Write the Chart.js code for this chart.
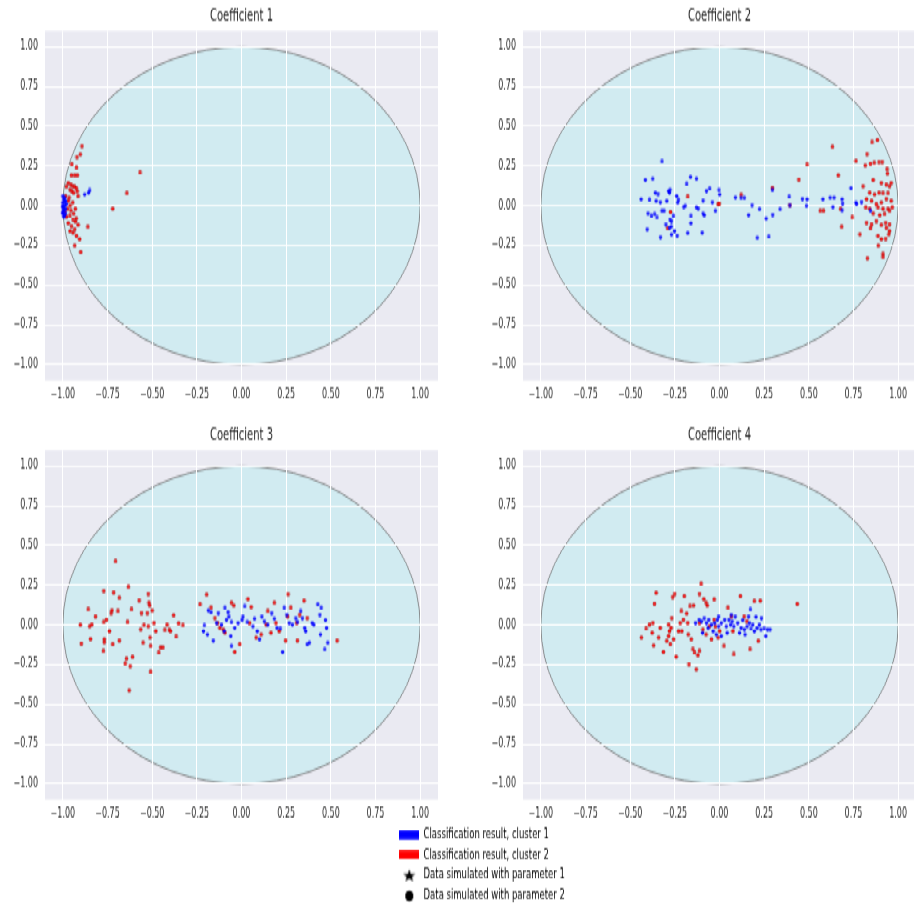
<!DOCTYPE html>
<html>
<head>
<meta charset="utf-8">
<script src="https://cdn.jsdelivr.net/npm/chart.js@4.4.1/dist/chart.umd.min.js"></script>
<style>
  html, body { margin: 0; padding: 0; background: #fff; overflow: hidden; }
  /* the reference figure is stretched vertically, so draw flat and stretch */
  #fig { position: absolute; left: 0; top: 0; width: 914px; height: 567px; transform: scaleY(1.6); transform-origin: 0 0; }
  #fig canvas { position: absolute; }
</style>
</head>
<body>
<div id="fig">
  <canvas id="c1" width="443" height="254" style="left:0px;top:0px"></canvas>
  <canvas id="c2" width="443" height="254" style="left:478px;top:0px"></canvas>
  <canvas id="c3" width="443" height="254" style="left:0px;top:262px"></canvas>
  <canvas id="c4" width="443" height="254" style="left:478px;top:262px"></canvas>
  <canvas id="legend" width="400" height="64" style="left:395px;top:513px"></canvas>
</div>
<script>
const titles = ['Coefficient 1', 'Coefficient 2', 'Coefficient 3', 'Coefficient 4'];
const tickValues = [-1, -0.75, -0.5, -0.25, 0, 0.25, 0.5, 0.75, 1];
const legendLabels = [
  'Classification result, cluster 1',
  'Classification result, cluster 2',
  'Data simulated with parameter 1',
  'Data simulated with parameter 2'
];

// [x, y] pairs
const coef1Blue = [[-0.878,0.072],[-0.856,0.083],[-0.85,0.097],[-1.0,0.06],[-0.995,0.04],[-1.0,0.02],[-0.99,0.0],
  [-1.0,-0.01],[-0.995,-0.03],[-1.0,-0.05],[-0.99,-0.06],[-0.985,0.03],[-0.985,-0.02],[-0.98,0.01],[-0.99,0.05],
  [-1.0,-0.04],[-0.995,-0.015],[-0.985,-0.045],[-0.99,0.025],[-1.0,0.0],[-0.995,-0.07]];
const coef1Red = [[-0.893,0.377],[-0.921,0.308],[-0.902,0.325],[-0.95,0.26],[-0.924,0.239],[-0.952,0.191],[-0.934,0.191],
  [-0.919,0.191],[-0.568,0.208],[-0.642,0.078],[-0.721,-0.018],[-0.86,-0.133],[-0.97,0.145],[-0.955,0.135],[-0.945,0.125],
  [-0.935,0.12],[-0.925,0.11],[-0.96,0.1],[-0.95,0.09],[-0.94,0.08],[-0.92,0.09],[-0.915,0.06],[-0.98,0.12],[-0.985,0.06],
  [-0.97,0.03],[-0.96,0.0],[-0.975,-0.02],[-0.955,-0.03],[-0.94,-0.05],[-0.93,-0.02],[-0.965,0.05],[-0.99,-0.04],
  [-0.98,-0.07],[-0.945,0.02],[-0.925,-0.08],[-0.961,-0.064],[-0.943,-0.085],[-0.952,-0.127],[-0.934,-0.147],
  [-0.943,-0.168],[-0.924,-0.189],[-0.906,-0.21],[-0.934,-0.252],[-0.9,-0.293],[-0.97,-0.11],[-0.96,-0.16],
  [-0.915,-0.12],[-0.93,-0.1]];

const coef2Blue = [[-0.439,0.041],[-0.415,0.164],[-0.374,0.17],[-0.322,0.279],[-0.392,0.037],[-0.359,0.083],[-0.344,0.076],
  [-0.355,0.03],[-0.331,0.024],[-0.4,-0.047],[-0.381,-0.064],[-0.363,-0.053],[-0.35,-0.074],[-0.405,-0.147],[-0.33,-0.197],
  [-0.322,-0.032],[-0.31,-0.032],[-0.295,0.03],[-0.285,0.093],[-0.28,0.083],[-0.277,0.1],[-0.3,-0.116],[-0.269,-0.095],
  [-0.277,-0.085],[-0.258,-0.064],[-0.28,-0.137],[-0.27,-0.131],[-0.252,-0.158],[-0.269,-0.181],[-0.237,-0.187],
  [-0.24,0.062],[-0.23,0.037],[-0.234,0.02],[-0.2,-0.005],[-0.192,-0.001],[-0.184,0.137],[-0.162,0.181],[-0.129,0.17],
  [-0.16,-0.064],[-0.16,-0.11],[-0.178,-0.172],[-0.097,-0.168],[-0.129,-0.011],[-0.119,-0.015],[-0.092,-0.047],
  [-0.086,-0.06],[-0.092,0.035],[-0.073,0.095],[-0.055,0.108],[-0.04,0.024],[-0.023,-0.032],[-0.003,0.099],[0.001,0.072],
  [0.089,0.053],[0.121,0.049],[0.139,0.049],[0.182,0.005],[0.163,-0.057],[0.224,-0.022],[0.211,-0.202],[0.276,-0.195],
  [0.261,-0.08],[0.298,-0.055],[0.339,-0.022],[0.296,0.099],[0.39,0.057],[0.394,0.005],[0.464,0.045],[0.49,0.041],
  [0.487,-0.001],[0.579,0.041],[0.619,0.051],[0.641,0.051],[0.635,-0.007],[0.686,0.041],[0.689,0.016],[0.686,-0.026],
  [0.736,0.11],[0.764,0.02],[0.767,0.01],[0.795,0.026],[0.845,-0.032]];
const coef2Red = [[-0.178,0.057],[-0.274,-0.039],[-0.29,-0.143],[-0.008,0.009],[-0.002,0.015],[0.121,0.068],[0.296,0.114],
  [0.394,0.005],[0.444,0.166],[0.49,0.258],[0.632,0.371],[0.665,0.191],[0.684,-0.133],[0.678,-0.022],[0.564,-0.032],
  [0.582,-0.032],[0.743,-0.074],[0.764,0.281],[0.786,-0.179],[0.826,0.327],[0.854,0.4],[0.884,0.413],[0.816,0.254],
  [0.845,0.266],[0.866,0.27],[0.893,0.277],[0.911,0.277],[0.86,0.162],[0.938,0.229],[0.94,0.202],[0.906,0.145],
  [0.934,0.135],[0.952,0.124],[0.961,0.145],[0.804,0.124],[0.841,0.083],[0.868,0.072],[0.893,0.083],[0.915,0.078],
  [0.943,0.078],[0.823,0.041],[0.851,0.03],[0.878,0.009],[0.906,0.02],[0.934,0.045],[0.961,0.03],[0.819,-0.011],
  [0.841,-0.018],[0.887,-0.011],[0.915,-0.018],[0.943,-0.022],[0.967,-0.011],[0.86,-0.047],[0.897,-0.06],[0.924,-0.053],
  [0.952,-0.032],[0.823,-0.106],[0.851,-0.116],[0.878,-0.095],[0.906,-0.122],[0.93,-0.106],[0.952,-0.116],[0.845,-0.143],
  [0.934,-0.137],[0.952,-0.158],[0.948,-0.179],[0.887,-0.189],[0.906,-0.21],[0.93,-0.206],[0.889,-0.252],[0.915,-0.304],
  [0.915,-0.325],[0.828,-0.329]];

const coef3Blue = [[-0.186,0.093],[-0.171,0.08],[-0.13,0.076],[-0.093,0.108],[-0.075,0.08],[-0.208,-0.003],[-0.213,-0.039],
  [-0.191,-0.06],[-0.158,-0.097],[-0.139,0.014],[-0.112,0.003],[-0.097,-0.039],[-0.084,0.034],[-0.071,0.055],[-0.056,0.018],
  [-0.038,-0.018],[-0.06,-0.07],[-0.056,-0.133],[-0.019,0.014],[0.003,0.034],[0.008,0.055],[0.018,0.118],[0.032,0.018],
  [0.064,-0.007],[0.073,0.039],[0.088,-0.039],[0.101,-0.091],[0.114,0.055],[0.128,0.024],[0.147,0.003],[0.169,0.076],
  [0.184,0.039],[0.199,-0.018],[0.217,-0.024],[0.239,0.108],[0.254,0.066],[0.267,0.014],[0.285,0.003],[0.304,0.045],
  [0.313,0.018],[0.331,0.087],[0.341,0.045],[0.354,-0.018],[0.359,-0.039],[0.368,-0.122],[0.38,-0.112],[0.396,0.014],
  [0.405,0.003],[0.427,0.129],[0.446,0.108],[0.439,0.066],[0.442,-0.06],[0.47,0.03],[0.476,-0.018],[0.483,-0.112],
  [0.466,-0.154],[0.23,-0.17]];
const coef3Red = [[-0.902,0.0],[-0.897,-0.116],[-0.85,-0.007],[-0.838,0.003],[-0.817,0.055],[-0.858,0.097],[-0.845,-0.088],
  [-0.771,0.216],[-0.716,0.206],[-0.684,0.17],[-0.771,0.018],[-0.756,0.034],[-0.739,-0.039],[-0.768,-0.091],[-0.768,-0.108],
  [-0.773,-0.164],[-0.721,-0.122],[-0.684,-0.097],[-0.73,0.076],[-0.725,0.093],[-0.692,0.087],[-0.633,0.239],[-0.638,0.018],
  [-0.616,0.097],[-0.573,0.156],[-0.522,0.197],[-0.518,0.139],[-0.514,0.124],[-0.56,0.076],[-0.527,0.076],[-0.5,0.091],
  [-0.564,-0.028],[-0.546,-0.001],[-0.522,-0.007],[-0.49,0.014],[-0.48,-0.039],[-0.512,-0.08],[-0.551,-0.112],
  [-0.509,-0.133],[-0.463,-0.175],[-0.453,-0.143],[-0.44,-0.143],[-0.417,0.003],[-0.404,-0.032],[-0.38,0.06],[-0.352,0.009],
  [-0.328,-0.003],[-0.366,-0.074],[-0.398,-0.039],[-0.429,-0.032],[-0.644,-0.212],[-0.61,-0.202],[-0.623,-0.258],
  [-0.651,-0.244],[-0.509,-0.296],[-0.629,-0.411],[-0.705,0.4],
  [-0.232,0.129],[-0.195,0.191],[-0.171,0.108],[-0.149,0.045],[-0.134,0.014],[-0.121,-0.018],[-0.102,-0.028],[-0.093,-0.049],
  [-0.056,0.139],[-0.043,0.122],[-0.01,-0.122],[-0.038,-0.17],[0.036,0.164],[0.054,0.114],[0.045,0.014],[0.082,-0.08],
  [0.11,-0.06],[0.138,0.003],[0.147,0.087],[0.165,-0.049],[0.184,0.139],[0.193,0.014],[0.211,-0.039],[0.247,-0.097],
  [0.261,0.195],[0.258,0.055],[0.276,0.108],[0.309,0.014],[0.313,-0.097],[0.326,0.066],[0.35,0.154],[0.368,0.045],
  [0.535,-0.097]];

const coef4Blue = [[-0.134,0.014],[-0.114,0.034],[-0.101,0.024],[-0.086,0.045],[-0.073,0.014],[-0.06,0.034],[-0.045,0.003],
  [-0.036,-0.039],[-0.027,0.014],[-0.012,0.034],[-0.005,0.055],[-0.005,-0.007],[0.01,0.014],[0.029,0.034],[0.043,-0.049],
  [0.053,0.034],[0.066,0.066],[0.071,0.024],[0.08,-0.007],[0.088,0.055],[0.102,0.014],[0.121,-0.018],[0.13,0.03],
  [0.139,-0.028],[0.143,-0.06],[0.154,-0.007],[0.163,0.055],[0.173,0.097],[0.176,-0.024],[0.186,0.003],[0.195,-0.039],
  [0.204,0.051],[0.21,-0.018],[0.223,0.003],[0.232,-0.028],[0.235,0.045],[0.25,-0.024],[0.259,-0.07],[0.269,-0.028],
  [0.283,-0.028],[-0.095,-0.049],[-0.064,-0.018],[-0.018,-0.06],[0.01,-0.07],[0.038,-0.007],[0.062,0.003],[0.112,-0.049],
  [0.167,0.014]];
const coef4Red = [[-0.437,-0.08],[-0.411,-0.024],[-0.392,0.003],[-0.373,0.014],[-0.377,-0.049],[-0.369,-0.129],[-0.355,0.202],
  [-0.364,0.135],[-0.332,-0.018],[-0.341,-0.08],[-0.314,-0.17],[-0.295,-0.101],[-0.285,-0.07],[-0.28,-0.039],[-0.271,-0.018],
  [-0.267,0.045],[-0.285,0.003],[-0.257,-0.091],[-0.275,-0.122],[-0.262,0.177],[-0.251,0.197],[-0.243,-0.2],[-0.229,-0.039],
  [-0.22,0.014],[-0.214,0.087],[-0.211,-0.039],[-0.202,0.034],[-0.197,0.181],[-0.184,0.072],[-0.178,0.014],[-0.175,-0.06],
  [-0.165,0.118],[-0.171,-0.246],[-0.158,-0.091],[-0.149,-0.154],[-0.14,-0.175],[-0.13,-0.279],[-0.121,-0.191],
  [-0.112,-0.164],[-0.145,0.122],[-0.112,0.197],[-0.103,0.258],[-0.088,0.164],[-0.075,0.139],[-0.069,0.122],[-0.112,0.014],
  [-0.093,-0.028],[-0.075,-0.06],[-0.056,-0.007],[-0.045,-0.091],[-0.03,0.034],[-0.023,-0.011],[-0.008,-0.08],
  [0.001,-0.039],[0.025,-0.133],[-0.03,0.16],[0.047,0.108],[0.066,0.055],[0.075,-0.039],[0.08,-0.185],[0.117,0.181],
  [0.138,0.055],[0.153,0.024],[0.171,-0.154],[0.195,0.149],[0.228,0.153],[0.217,-0.101],[0.435,0.133]];

const FONT = 'DejaVu Sans';
const SQUASH = 1.6;

// small marker images, drawn flat so they look round after the stretch
function marker(w, h, draw) {
  const c = document.createElement('canvas');
  c.width = w; c.height = h;
  const g = c.getContext('2d');
  g.scale(1, 1 / SQUASH);
  draw(g);
  return c;
}
const blueDot = marker(5, 3, g => {
  g.beginPath(); g.arc(2.5, 2.4, 1.8, 0, Math.PI * 2);
  g.fillStyle = '#0000ff'; g.fill();
});
const redDot = marker(5, 3, g => {
  g.beginPath(); g.arc(2.5, 2.4, 1.7, 0, Math.PI * 2);
  g.fillStyle = '#ff0000'; g.fill();
  g.lineWidth = 0.5; g.strokeStyle = 'rgba(120,0,0,0.7)'; g.stroke();
});
const bluePatch = marker(20, 6, g => { g.fillStyle = '#0000ff'; g.fillRect(0, 0.3, 20, 9); });
const redPatch = marker(20, 6, g => { g.fillStyle = '#ff0000'; g.fillRect(0, 0.3, 20, 9); });
const starIcon = marker(14, 9, g => {
  g.beginPath();
  for (let i = 0; i < 10; i++) {
    const r = i % 2 ? 2.7 : 6.6;
    const a = -Math.PI / 2 + i * Math.PI / 5;
    g.lineTo(7 + r * Math.cos(a), 7.6 + r * Math.sin(a));
  }
  g.closePath(); g.fillStyle = '#000'; g.fill();
});
const circleIcon = marker(10, 8, g => {
  g.beginPath(); g.ellipse(5, 6.4, 4, 5.1, 0, 0, Math.PI * 2);
  g.fillStyle = '#000'; g.fill();
});
const legendIcons = [bluePatch, redPatch, starIcon, circleIcon];

const toPoints = arr => arr.map(([x, y]) => ({x, y}));
const fmt = v => v.toFixed(2).replace('-', '\u2212');

// grey panel plus the unit circle, under the grid
const panelBackground = {
  id: 'panelBackground',
  beforeDraw(chart) {
    const {ctx, chartArea: a, scales: {x, y}} = chart;
    ctx.save();
    ctx.fillStyle = '#eaeaf2';
    ctx.fillRect(a.left, a.top, a.width, a.height);
    const cx = x.getPixelForValue(0);
    const cy = y.getPixelForValue(0);
    const rx = x.getPixelForValue(1) - cx;
    const ry = cy - y.getPixelForValue(1);
    // stroke in a squashed frame so the edge stays thin after the stretch
    ctx.translate(cx, cy);
    ctx.scale(1, 1 / SQUASH);
    ctx.beginPath();
    ctx.ellipse(0, 0, rx, ry * SQUASH, 0, 0, Math.PI * 2);
    ctx.fillStyle = '#d1ebf1';
    ctx.fill();
    ctx.lineWidth = 0.9;
    ctx.strokeStyle = '#6a6a6a';
    ctx.stroke();
    ctx.restore();
  }
};

function axis(extra) {
  return Object.assign({
    min: -1.1,
    max: 1.1,
    afterBuildTicks: s => { s.ticks = tickValues.map(v => ({value: v})); },
    grid: {color: '#ffffff', lineWidth: 1, drawTicks: false},
    border: {display: false},
  }, extra);
}

function panel(id, title, blue, red) {
  return new Chart(document.getElementById(id), {
    type: 'scatter',
    data: {
      datasets: [
        {label: legendLabels[0], data: toPoints(blue), pointStyle: blueDot, pointRadius: 2},
        {label: legendLabels[1], data: toPoints(red), pointStyle: redDot, pointRadius: 2}
      ]
    },
    options: {
      responsive: false,
      devicePixelRatio: 1,
      animation: false,
      layout: {padding: 0},
      scales: {
        x: axis({
          afterFit: s => { s.height = 16.2; },
          ticks: {padding: 4.6, color: '#2a2a2a', font: {family: FONT, size: 8}, callback: fmt, maxRotation: 0}
        }),
        y: axis({
          afterFit: s => { s.width = 45; },
          ticks: {padding: 7, color: '#2a2a2a', font: {family: FONT, size: 8}, callback: fmt}
        })
      },
      plugins: {
        legend: {display: false},
        tooltip: {enabled: false},
        title: {
          display: true,
          text: title,
          fullSize: false,
          color: '#262626',
          font: {family: FONT, size: 10, weight: 'normal'},
          padding: {top: 4, bottom: 3.4}
        }
      }
    },
    plugins: [panelBackground]
  });
}

panel('c1', titles[0], coef1Blue, coef1Red);
panel('c2', titles[1], coef2Blue, coef2Red);
panel('c3', titles[2], coef3Blue, coef3Red);
panel('c4', titles[3], coef4Blue, coef4Red);

new Chart(document.getElementById('legend'), {
  type: 'scatter',
  data: {datasets: []},
  options: {
    responsive: false,
    devicePixelRatio: 1,
    animation: false,
    layout: {padding: 0},
    scales: {x: {display: false}, y: {display: false}},
    plugins: {
      tooltip: {enabled: false},
      legend: {
        position: 'left',
        align: 'start',
        labels: {
          usePointStyle: true,
          pointStyleWidth: 20,
          boxHeight: 6,
          padding: 4.3,
          color: '#262626',
          font: {family: FONT, size: 8.5},
          generateLabels: () => legendLabels.map((text, i) => ({
            text,
            pointStyle: legendIcons[i],
            fillStyle: '#000',
            strokeStyle: '#000',
            lineWidth: 0,
            hidden: false,
            datasetIndex: i
          }))
        }
      }
    }
  }
});
</script>
</body>
</html>
